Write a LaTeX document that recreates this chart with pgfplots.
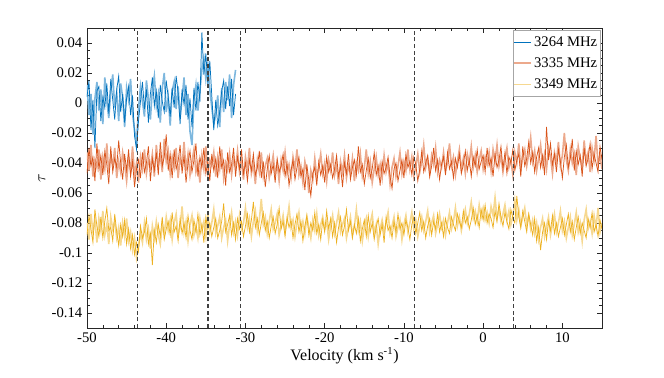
\documentclass[border=0pt]{standalone}
\usepackage{fontspec}
\setmainfont{Liberation Serif}
\usepackage{pgfplots}
\pgfplotsset{compat=1.18}
\usepackage{pgfplotstable}

\definecolor{mBlue}{HTML}{0072BD}
\definecolor{mBlueL}{HTML}{7DB7DE}
\definecolor{mOrange}{HTML}{D95319}
\definecolor{mOrangeL}{HTML}{ECA98C}
\definecolor{mYellow}{HTML}{EDB120}
\definecolor{mYellowL}{HTML}{F6D890}
\definecolor{mAxis}{HTML}{262626}

% 3264 MHz (light and dark traces)
\pgfplotstableread{
x bl bd
-50.00 0.012 0.004
-49.75 -0.008 0.015
-49.50 0.006 -0.018
-49.25 -0.021 0.002
-49.00 0.003 -0.030
-48.75 0.014 0.008
-48.50 -0.005 0.011
-48.25 0.009 -0.012
-48.00 -0.014 0.004
-47.75 0.017 -0.003
-47.50 0.001 0.013
-47.25 -0.010 -0.007
-47.00 0.008 0.016
-46.75 0.019 0.002
-46.50 -0.003 -0.011
-46.25 0.007 0.009
-46.00 -0.012 0.018
-45.75 0.013 -0.006
-45.50 0.004 0.006
-45.25 -0.016 -0.013
-45.00 0.010 0.003
-44.75 0.002 0.011
-44.50 0.016 -0.008
-44.25 -0.007 0.005
-44.00 -0.018 -0.022
-43.75 -0.026 -0.031
-43.50 -0.004 -0.012
-43.25 0.011 0.001
-43.00 0.001 0.014
-42.75 -0.009 -0.004
-42.50 0.015 0.009
-42.25 0.003 -0.013
-42.00 -0.011 0.006
-41.75 0.009 0.017
-41.50 0.018 -0.002
-41.25 -0.002 0.008
-41.00 0.006 -0.010
-40.75 -0.013 0.012
-40.50 0.010 0.001
-40.25 0.020 -0.006
-40.00 -0.006 0.015
-39.75 0.004 0.004
-39.50 -0.015 -0.009
-39.25 0.008 0.010
-39.00 0.014 -0.003
-38.75 -0.004 0.018
-38.50 0.011 0.007
-38.25 -0.010 -0.014
-38.00 0.003 0.009
-37.75 0.017 -0.001
-37.50 -0.008 0.012
-37.25 0.006 -0.011
-37.00 -0.019 0.003
-36.75 -0.028 -0.016
-36.50 0.002 0.010
-36.25 0.012 -0.005
-36.00 -0.005 0.014
-35.75 0.008 0.001
-35.50 0.022 0.047
-35.25 0.030 0.019
-35.00 0.016 0.033
-34.75 0.026 0.012
-34.50 0.009 0.028
-34.25 -0.003 0.005
-34.00 -0.014 -0.018
-33.75 -0.008 0.002
-33.50 0.005 -0.015
-33.25 -0.016 -0.006
-33.00 0.010 0.008
-32.75 -0.006 0.015
-32.50 0.014 -0.004
-32.25 0.002 0.011
-32.00 0.019 -0.002
-31.75 -0.010 0.016
-31.50 0.012 -0.008
-31.25 0.022 0.006
}\bluetab

% 3335 MHz (ol, od) and 3349 MHz (yl, yd)
\pgfplotstableread{
x ol od yl yd
-50.00 -0.033 -0.047 -0.080 -0.088
-49.75 -0.045 -0.030 -0.091 -0.075
-49.50 -0.028 -0.042 -0.074 -0.084
-49.25 -0.049 -0.036 -0.086 -0.093
-49.00 -0.038 -0.052 -0.078 -0.071
-48.75 -0.043 -0.027 -0.093 -0.082
-48.50 -0.031 -0.044 -0.077 -0.089
-48.25 -0.051 -0.035 -0.085 -0.076
-48.00 -0.036 -0.048 -0.072 -0.090
-47.75 -0.044 -0.032 -0.088 -0.079
-47.50 -0.027 -0.041 -0.081 -0.070
-47.25 -0.047 -0.054 -0.094 -0.085
-47.00 -0.035 -0.029 -0.076 -0.083
-46.75 -0.042 -0.046 -0.084 -0.092
-46.50 -0.030 -0.037 -0.079 -0.074
-46.25 -0.050 -0.043 -0.090 -0.086
-46.00 -0.039 -0.025 -0.083 -0.095
-45.75 -0.046 -0.040 -0.095 -0.081
-45.50 -0.033 -0.051 -0.080 -0.089
-45.25 -0.041 -0.034 -0.089 -0.078
-45.00 -0.052 -0.045 -0.077 -0.094
-44.75 -0.037 -0.031 -0.092 -0.084
-44.50 -0.045 -0.049 -0.086 -0.097
-44.25 -0.029 -0.039 -0.098 -0.088
-44.00 -0.048 -0.056 -0.090 -0.101
-43.75 -0.040 -0.044 -0.103 -0.093
-43.50 -0.053 -0.038 -0.095 -0.099
-43.25 -0.036 -0.050 -0.087 -0.082
-43.00 -0.044 -0.033 -0.093 -0.090
-42.75 -0.031 -0.046 -0.080 -0.086
-42.50 -0.047 -0.040 -0.091 -0.077
-42.25 -0.038 -0.029 -0.084 -0.094
-42.00 -0.043 -0.052 -0.097 -0.087
-41.75 -0.034 -0.037 -0.082 -0.108
-41.50 -0.049 -0.045 -0.090 -0.085
-41.25 -0.028 -0.033 -0.079 -0.093
-41.00 -0.041 -0.048 -0.088 -0.081
-40.75 -0.035 -0.026 -0.094 -0.089
-40.50 -0.046 -0.042 -0.081 -0.076
-40.25 -0.024 -0.036 -0.087 -0.091
-40.00 -0.039 -0.021 -0.076 -0.084
-39.75 -0.032 -0.045 -0.085 -0.079
-39.50 -0.047 -0.034 -0.078 -0.088
-39.25 -0.036 -0.050 -0.091 -0.073
-39.00 -0.043 -0.031 -0.080 -0.086
-38.75 -0.030 -0.044 -0.074 -0.082
-38.50 -0.050 -0.039 -0.088 -0.092
-38.25 -0.037 -0.028 -0.083 -0.077
-38.00 -0.042 -0.047 -0.069 -0.087
-37.75 -0.026 -0.035 -0.086 -0.080
-37.50 -0.045 -0.053 -0.079 -0.090
-37.25 -0.034 -0.040 -0.092 -0.075
-37.00 -0.048 -0.032 -0.081 -0.085
-36.75 -0.039 -0.046 -0.075 -0.091
-36.50 -0.031 -0.038 -0.088 -0.078
-36.25 -0.046 -0.027 -0.082 -0.086
-36.00 -0.040 -0.049 -0.090 -0.074
-35.75 -0.053 -0.036 -0.077 -0.088
-35.50 -0.035 -0.043 -0.085 -0.081
-35.25 -0.044 -0.030 -0.079 -0.093
-35.00 -0.029 -0.047 -0.089 -0.076
-34.75 -0.047 -0.039 -0.074 -0.084
-34.50 -0.038 -0.052 -0.086 -0.080
-34.25 -0.042 -0.034 -0.080 -0.089
-34.00 -0.033 -0.045 -0.071 -0.083
-33.75 -0.049 -0.037 -0.087 -0.077
-33.50 -0.036 -0.050 -0.082 -0.090
-33.25 -0.044 -0.029 -0.076 -0.085
-33.00 -0.031 -0.043 -0.090 -0.079
-32.75 -0.050 -0.038 -0.083 -0.067
-32.50 -0.040 -0.055 -0.078 -0.086
-32.25 -0.045 -0.033 -0.092 -0.081
-32.00 -0.034 -0.046 -0.081 -0.075
-31.75 -0.048 -0.041 -0.073 -0.088
-31.50 -0.037 -0.030 -0.086 -0.080
-31.25 -0.043 -0.049 -0.079 -0.091
-31.00 -0.032 -0.036 -0.088 -0.077
-30.75 -0.046 -0.044 -0.075 -0.084
-30.50 -0.039 -0.031 -0.084 -0.079
-30.25 -0.051 -0.047 -0.080 -0.089
-30.00 -0.036 -0.040 -0.070 -0.082
-29.75 -0.044 -0.052 -0.083 -0.074
-29.50 -0.030 -0.038 -0.077 -0.086
-29.25 -0.047 -0.045 -0.089 -0.078
-29.00 -0.041 -0.034 -0.079 -0.066
-28.75 -0.054 -0.048 -0.072 -0.083
-28.50 -0.038 -0.043 -0.085 -0.077
-28.25 -0.046 -0.032 -0.078 -0.088
-28.00 -0.033 -0.050 -0.064 -0.080
-27.75 -0.049 -0.039 -0.081 -0.073
-27.50 -0.042 -0.056 -0.076 -0.085
-27.25 -0.037 -0.044 -0.087 -0.079
-27.00 -0.050 -0.035 -0.079 -0.090
-26.75 -0.043 -0.047 -0.071 -0.082
-26.50 -0.035 -0.041 -0.084 -0.076
-26.25 -0.048 -0.053 -0.080 -0.087
-26.00 -0.040 -0.037 -0.074 -0.081
-25.75 -0.052 -0.046 -0.088 -0.070
-25.50 -0.038 -0.042 -0.082 -0.084
-25.25 -0.045 -0.034 -0.075 -0.079
-25.00 -0.033 -0.049 -0.086 -0.089
-24.75 -0.047 -0.040 -0.079 -0.076
-24.50 -0.041 -0.055 -0.069 -0.083
-24.25 -0.050 -0.045 -0.083 -0.078
-24.00 -0.036 -0.038 -0.078 -0.090
-23.75 -0.044 -0.051 -0.089 -0.081
-23.50 -0.031 -0.043 -0.080 -0.074
-23.25 -0.048 -0.036 -0.073 -0.086
-23.00 -0.042 -0.049 -0.085 -0.079
-22.75 -0.053 -0.044 -0.079 -0.092
-22.50 -0.039 -0.058 -0.087 -0.082
-22.25 -0.046 -0.041 -0.076 -0.075
-22.00 -0.060 -0.052 -0.083 -0.088
-21.75 -0.045 -0.062 -0.090 -0.080
-21.50 -0.051 -0.047 -0.078 -0.085
-21.25 -0.037 -0.043 -0.085 -0.073
-21.00 -0.049 -0.055 -0.074 -0.087
-20.75 -0.043 -0.039 -0.088 -0.081
-20.50 -0.034 -0.048 -0.081 -0.091
-20.25 -0.047 -0.042 -0.076 -0.078
-20.00 -0.040 -0.053 -0.084 -0.086
-19.75 -0.052 -0.036 -0.079 -0.072
-19.50 -0.038 -0.046 -0.091 -0.084
-19.25 -0.045 -0.041 -0.082 -0.077
-19.00 -0.033 -0.050 -0.075 -0.089
-18.75 -0.048 -0.044 -0.087 -0.080
-18.50 -0.041 -0.035 -0.080 -0.093
-18.25 -0.054 -0.049 -0.073 -0.083
-18.00 -0.039 -0.042 -0.086 -0.076
-17.75 -0.046 -0.056 -0.081 -0.088
-17.50 -0.035 -0.040 -0.077 -0.082
-17.25 -0.050 -0.047 -0.090 -0.071
-17.00 -0.042 -0.034 -0.083 -0.085
-16.75 -0.047 -0.051 -0.076 -0.079
-16.50 -0.037 -0.043 -0.088 -0.090
-16.25 -0.052 -0.038 -0.082 -0.081
-16.00 -0.040 -0.048 -0.071 -0.087
-15.75 -0.045 -0.029 -0.085 -0.077
-15.50 -0.034 -0.046 -0.079 -0.092
-15.25 -0.049 -0.041 -0.092 -0.084
-15.00 -0.043 -0.054 -0.083 -0.078
-14.75 -0.031 -0.045 -0.077 -0.089
-14.50 -0.047 -0.037 -0.089 -0.075
-14.25 -0.039 -0.050 -0.080 -0.086
-14.00 -0.053 -0.044 -0.074 -0.080
-13.75 -0.044 -0.033 -0.087 -0.091
-13.50 -0.036 -0.048 -0.081 -0.083
-13.25 -0.048 -0.042 -0.094 -0.077
-13.00 -0.041 -0.055 -0.084 -0.088
-12.75 -0.050 -0.039 -0.078 -0.081
-12.50 -0.035 -0.047 -0.086 -0.093
-12.25 -0.046 -0.043 -0.080 -0.076
-12.00 -0.040 -0.036 -0.073 -0.085
-11.75 -0.054 -0.049 -0.087 -0.082
-11.50 -0.043 -0.057 -0.082 -0.090
-11.25 -0.037 -0.044 -0.076 -0.079
-11.00 -0.049 -0.040 -0.089 -0.086
-10.75 -0.042 -0.052 -0.083 -0.074
-10.50 -0.033 -0.045 -0.078 -0.084
-10.25 -0.047 -0.038 -0.091 -0.080
-10.00 -0.039 -0.050 -0.081 -0.088
-9.75 -0.045 -0.034 -0.075 -0.078
-9.50 -0.031 -0.043 -0.086 -0.083
-9.25 -0.044 -0.039 -0.080 -0.091
-9.00 -0.036 -0.048 -0.073 -0.081
-8.75 -0.049 -0.036 -0.084 -0.076
-8.50 -0.042 -0.041 -0.078 -0.087
-8.25 -0.034 -0.052 -0.089 -0.080
-8.00 -0.046 -0.044 -0.082 -0.073
-7.75 -0.039 -0.032 -0.076 -0.085
-7.50 -0.028 -0.046 -0.085 -0.079
-7.25 -0.043 -0.040 -0.079 -0.090
-7.00 -0.037 -0.035 -0.072 -0.082
-6.75 -0.047 -0.049 -0.086 -0.077
-6.50 -0.035 -0.042 -0.080 -0.088
-6.25 -0.041 -0.030 -0.075 -0.079
-6.00 -0.030 -0.045 -0.087 -0.084
-5.75 -0.046 -0.038 -0.081 -0.074
-5.50 -0.038 -0.051 -0.074 -0.086
-5.25 -0.043 -0.041 -0.083 -0.080
-5.00 -0.033 -0.036 -0.078 -0.089
-4.75 -0.045 -0.048 -0.088 -0.077
-4.50 -0.040 -0.033 -0.080 -0.083
-4.25 -0.027 -0.044 -0.073 -0.087
-4.00 -0.042 -0.039 -0.084 -0.076
-3.75 -0.036 -0.050 -0.079 -0.081
-3.50 -0.048 -0.037 -0.070 -0.085
-3.25 -0.039 -0.043 -0.082 -0.074
-3.00 -0.031 -0.034 -0.076 -0.079
-2.75 -0.044 -0.047 -0.085 -0.083
-2.50 -0.037 -0.041 -0.078 -0.072
-2.25 -0.047 -0.032 -0.071 -0.080
-2.00 -0.034 -0.045 -0.080 -0.076
-1.75 -0.040 -0.038 -0.074 -0.084
-1.50 -0.029 -0.049 -0.066 -0.078
-1.25 -0.043 -0.036 -0.077 -0.070
-1.00 -0.035 -0.042 -0.072 -0.081
-0.75 -0.046 -0.031 -0.079 -0.075
-0.50 -0.038 -0.044 -0.068 -0.083
-0.25 -0.032 -0.039 -0.076 -0.071
0.00 -0.044 -0.035 -0.070 -0.078
0.25 -0.036 -0.046 -0.078 -0.068
0.50 -0.041 -0.030 -0.073 -0.080
0.75 -0.033 -0.042 -0.080 -0.074
1.00 -0.045 -0.037 -0.069 -0.077
1.25 -0.031 -0.049 -0.075 -0.083
1.50 -0.039 -0.034 -0.063 -0.072
1.75 -0.028 -0.043 -0.077 -0.079
2.00 -0.042 -0.038 -0.071 -0.067
2.25 -0.035 -0.029 -0.079 -0.076
2.50 -0.046 -0.044 -0.074 -0.082
2.75 -0.037 -0.033 -0.068 -0.073
3.00 -0.030 -0.047 -0.078 -0.079
3.25 -0.043 -0.036 -0.072 -0.084
3.50 -0.038 -0.040 -0.081 -0.071
3.75 -0.048 -0.031 -0.075 -0.077
4.00 -0.033 -0.045 -0.065 -0.080
4.25 -0.040 -0.038 -0.078 -0.062
4.50 -0.027 -0.034 -0.071 -0.076
4.75 -0.044 -0.049 -0.082 -0.083
5.00 -0.036 -0.029 -0.076 -0.072
5.25 -0.031 -0.042 -0.070 -0.079
5.50 -0.042 -0.037 -0.081 -0.086
5.75 -0.034 -0.026 -0.075 -0.074
6.00 -0.023 -0.040 -0.084 -0.081
6.25 -0.039 -0.033 -0.078 -0.088
6.50 -0.032 -0.046 -0.087 -0.077
6.75 -0.045 -0.036 -0.080 -0.092
7.00 -0.037 -0.030 -0.091 -0.083
7.25 -0.028 -0.043 -0.083 -0.098
7.50 -0.041 -0.035 -0.077 -0.086
7.75 -0.034 -0.048 -0.089 -0.080
8.00 -0.044 -0.016 -0.082 -0.091
8.25 -0.030 -0.038 -0.076 -0.079
8.50 -0.036 -0.027 -0.088 -0.085
8.75 -0.047 -0.041 -0.081 -0.075
9.00 -0.033 -0.034 -0.074 -0.087
9.25 -0.039 -0.046 -0.086 -0.080
9.50 -0.026 -0.031 -0.080 -0.089
9.75 -0.042 -0.039 -0.072 -0.083
10.00 -0.035 -0.050 -0.085 -0.077
10.25 -0.020 -0.036 -0.079 -0.088
10.50 -0.038 -0.028 -0.090 -0.081
10.75 -0.045 -0.043 -0.083 -0.074
11.00 -0.031 -0.037 -0.076 -0.086
11.25 -0.040 -0.024 -0.088 -0.079
11.50 -0.034 -0.045 -0.081 -0.091
11.75 -0.048 -0.032 -0.073 -0.083
12.00 -0.029 -0.041 -0.086 -0.076
12.25 -0.037 -0.035 -0.080 -0.087
12.50 -0.043 -0.049 -0.092 -0.080
12.75 -0.025 -0.030 -0.078 -0.085
13.00 -0.039 -0.042 -0.071 -0.090
13.25 -0.033 -0.037 -0.084 -0.077
13.50 -0.046 -0.027 -0.079 -0.083
13.75 -0.030 -0.044 -0.087 -0.073
14.00 -0.038 -0.034 -0.075 -0.086
14.25 -0.022 -0.040 -0.083 -0.081
14.50 -0.041 -0.046 -0.070 -0.089
14.75 -0.035 -0.029 -0.086 -0.078
15.00 -0.044 -0.038 -0.080 -0.084
}\maintab

\begin{document}
\begin{tikzpicture}
% page = 664 x 378 px at 0.75pt per px
\useasboundingbox (-65.25pt,-37.5pt) rectangle (432.75pt,246pt);
\begin{axis}[
    at={(0,0)}, anchor=south west,
    scale only axis,
    width=386.25pt, height=225pt,
    xmin=-50, xmax=15,
    ymin=-0.15, ymax=0.05,
    xtick={-50,-40,...,10},
    ytick={-0.14,-0.12,...,0.041},
    minor x tick num=4,
    minor y tick num=3,
    major tick length=3.5pt,
    minor tick length=2pt,
    tick align=inside,
    axis line style={mAxis, line width=0.5pt},
    tick style={mAxis, line width=0.4pt},
    /pgf/number format/assume math mode=true,
    yticklabel style={/pgf/number format/fixed, /pgf/number format/precision=2},
    scaled y ticks=false,
    tick label style={font=\fontsize{11}{13}\selectfont, text=black},
    xlabel={Velocity (km s\textsuperscript{-1})},
    ylabel={$\tau$},
    label style={font=\fontsize{12}{14}\selectfont},
    xlabel style={yshift=3pt},
    ylabel style={yshift=-2pt},
    legend style={at={(0.9965,0.993)}, anchor=north east,
        draw=gray!70, fill=white,
        font=\fontsize{11}{13}\selectfont,
        inner xsep=0pt, inner ysep=2.5pt, row sep=3pt},
    legend cell align=left,
    legend image code/.code={\draw[#1] (-0.05cm,0cm) -- (0.38cm,0cm);},
]
% 3349 MHz
\addplot[mYellowL, line width=1.2pt, forget plot] table[x=x, y=yl] {\maintab};
\addplot[mYellow, line width=0.55pt, forget plot] table[x=x, y=yd] {\maintab};
% 3335 MHz
\addplot[mOrangeL, line width=1.2pt, forget plot] table[x=x, y=ol] {\maintab};
\addplot[mOrange, line width=0.55pt, forget plot] table[x=x, y=od] {\maintab};
% 3264 MHz
\addplot[mBlueL, line width=1.2pt, forget plot] table[x=x, y=bl] {\bluetab};
\addplot[mBlue, line width=0.55pt, forget plot] table[x=x, y=bd] {\bluetab};

% dashed reference velocities
\addplot[gray!50!black, line width=0.5pt, dash pattern=on 3pt off 2pt, forget plot] coordinates {(-43.6,-0.15) (-43.6,0.05)};
\addplot[gray!50!black, line width=0.5pt, dash pattern=on 3pt off 2pt, forget plot] coordinates {(-34.85,-0.15) (-34.85,0.05)};
\addplot[gray!50!black, line width=0.5pt, dash pattern=on 3pt off 2pt, forget plot] coordinates {(-34.65,-0.15) (-34.65,0.05)};
\addplot[gray!50!black, line width=0.5pt, dash pattern=on 3pt off 2pt, forget plot] coordinates {(-30.6,-0.15) (-30.6,0.05)};
\addplot[gray!50!black, line width=0.5pt, dash pattern=on 3pt off 2pt, forget plot] coordinates {(-8.7,-0.15) (-8.7,0.05)};
\addplot[gray!50!black, line width=0.5pt, dash pattern=on 3pt off 2pt, forget plot] coordinates {(3.8,-0.15) (3.8,0.05)};

\addlegendimage{mBlue, line width=0.6pt}
\addlegendentry{3264 MHz}
\addlegendimage{mOrangeL, line width=1.2pt}
\addlegendentry{3335 MHz}
\addlegendimage{mYellowL, line width=1.2pt}
\addlegendentry{3349 MHz}
\end{axis}
\end{tikzpicture}
\end{document}
